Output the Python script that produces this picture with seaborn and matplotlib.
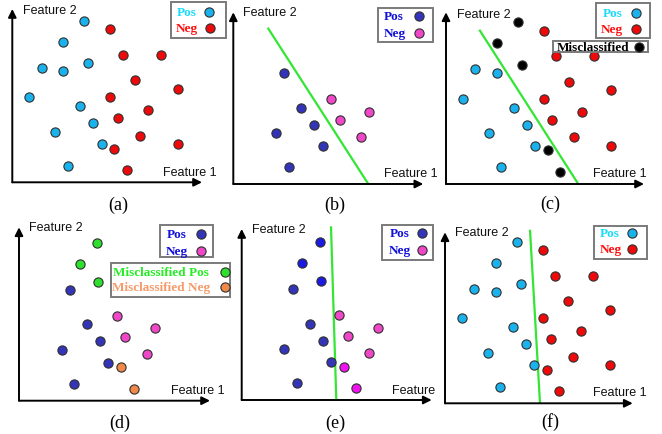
import matplotlib
matplotlib.use('Agg')
import matplotlib.pyplot as plt
import seaborn as sns
import pandas as pd
from matplotlib.patches import Rectangle

sns.set_theme(style='white')
plt.rcParams['font.family'] = ['Liberation Sans', 'DejaVu Sans']

# ---------------- data (Feature 1, Feature 2) ----------------
# dataset used in panels (a), (c), (f)
pos_f1 = [72, 51, 29.4, 51, 76, 17, 67.7, 81, 42.7, 89.4, 55.4]
pos_f2 = [161.6, 140.6, 114.6, 111, 119.3, 85, 76.3, 59, 50.6, 38, 16.6]
pos_miscls_c = [True, True, False, False, True, False, False, False, False, False, False]
neg_f1 = [97.7, 110.4, 148.4, 122.7, 165.4, 97.7, 136, 106, 127.7, 165.4, 102, 114.4]
neg_f2 = [153.3, 127.6, 127.6, 102.3, 93.6, 85, 72.3, 64, 46.6, 38, 33.6, 12]
neg_miscls_c = [False] * 10 + [True, True]

# dataset used in panels (b), (d), (e)
core_pos_f1 = [51, 68, 81, 42.7, 89.4, 55.4]
core_pos_f2 = [111, 76.5, 59.5, 50.7, 38, 16.7]
core_neg_f1 = [97.7, 106.3, 136, 127.7]
core_neg_f2 = [85, 64, 72.5, 46.7]
mis_pos_f1 = [78, 60.7, 79.3]
mis_pos_f2 = [158, 136.7, 119]
mis_neg_f1 = [102.2, 114.7]
mis_neg_f2 = [33.5, 12.2]

# decision boundaries (two end points each)
line_b_f1, line_b_f2 = [34.4, 135], [156.3, 0]
line_c_f1, line_c_f2 = [33.3, 132.3], [154.3, 0]
line_e_f1, line_e_f2 = [89.3, 94.6], [173.7, 0]
line_f_f1, line_f_f2 = [85, 95], [173.6, 0]

panel_labels = ['(a)', '(b)', '(c)', '(d)', '(e)', '(f)']

# ---------------- styling ----------------
CYAN = '#1ab2ec'
RED = '#ee0a0a'
BLUE = '#3434b8'
PINK = '#f046c8'
GREEN = '#2ee02e'
ORANGE = '#f08848'
EDGE = '#303030'
LINE_GREEN = '#33e633'
S = 44
LEG_FS = 9.5

W_PX, H_PX = 662, 435
fig = plt.figure(figsize=(6.62, 4.35), dpi=100)
fig.patch.set_facecolor('white')

panels = [
    dict(cell=(0, 220, 0, 217), origin=(12.3, 183.3), xend=202, ytop=10),
    dict(cell=(220, 440, 0, 217), origin=(233.3, 185), xend=423.3, ytop=13.3),
    dict(cell=(440, 662, 0, 217), origin=(446, 185), xend=644, ytop=13.3),
    dict(cell=(0, 220, 217, 435), origin=(19, 401.7), xend=210, ytop=228.3),
    dict(cell=(220, 439, 217, 435), origin=(241.7, 401), xend=431.7, ytop=230),
    dict(cell=(440, 662, 217, 435), origin=(445, 404.3), xend=632.7, ytop=233.3),
]

axes = []
for p in panels:
    L, R, T, B = p['cell']
    ox, oy = p['origin']
    ax = fig.add_axes([L / W_PX, 1 - B / H_PX, (R - L) / W_PX, (B - T) / H_PX])
    ax.set_xlim(L - ox, R - ox)
    ax.set_ylim(oy - B, oy - T)
    ax.set_axis_off()
    ap = dict(arrowstyle='-|>,head_length=0.6,head_width=0.3', color='black',
              lw=1.4, shrinkA=0, shrinkB=0, mutation_scale=8)
    ax.annotate('', xy=(p['xend'] - ox, 0), xytext=(0, 0), arrowprops=ap, annotation_clip=False)
    ax.annotate('', xy=(0, oy - p['ytop']), xytext=(0, 0), arrowprops=ap, annotation_clip=False)
    axes.append(ax)


def px(i, x, y):
    ox, oy = panels[i]['origin']
    return x - ox, oy - y


def feat_labels(i, f2_xy, f1_xy, clip_f1=False):
    ax = axes[i]
    x, y = px(i, *f2_xy)
    ax.text(x, y, 'Feature 2', ha='left', va='center', fontsize=9, color='#111111')
    x, y = px(i, *f1_xy)
    ax.text(x, y, 'Feature 1', ha='left', va='center', fontsize=9, color='#111111',
            clip_on=clip_f1)


def box(i, x0, y0, x1, y1):
    ax = axes[i]
    bx, by = px(i, x0, y1)
    ax.add_patch(Rectangle((bx, by), x1 - x0, y1 - y0, facecolor='white',
                           edgecolor='#7a7a7a', lw=1.4, clip_on=False, zorder=4))


def entry(i, tx, ty, text, tcolor, mx, mcolor):
    ax = axes[i]
    x, y = px(i, tx, ty)
    ax.text(x, y, text, ha='left', va='center', fontsize=LEG_FS, fontweight='bold',
            family='Liberation Serif', color=tcolor, zorder=5)
    x, y = px(i, mx, ty)
    ax.scatter([x], [y], s=S, color=mcolor, edgecolor=EDGE, linewidth=0.8,
               zorder=5, clip_on=False)


def dots(ax, f1, f2, color):
    sns.scatterplot(x=f1, y=f2, color=color, s=S, edgecolor=EDGE, linewidth=0.8,
                    ax=ax, legend=False, zorder=3, clip_on=False)


def boundary(ax, f1, f2):
    ax.plot(f1, f2, color=LINE_GREEN, lw=1.6, zorder=2, solid_capstyle='butt')


def sel(vals, mask, keep):
    return [v for v, m in zip(vals, mask) if m == keep]


# (a)
dots(axes[0], pos_f1, pos_f2, CYAN)
dots(axes[0], neg_f1, neg_f2, RED)
feat_labels(0, (22.7, 10.7), (162.7, 173.3))
box(0, 170.7, 3.3, 226, 38.5)
entry(0, 176.7, 12.7, 'Pos', '#18dcf8', 209.3, CYAN)
entry(0, 175.7, 29.3, 'Neg', '#ff1010', 210, RED)

# (b)
boundary(axes[1], line_b_f1, line_b_f2)
dots(axes[1], core_pos_f1, core_pos_f2, BLUE)
dots(axes[1], core_neg_f1, core_neg_f2, PINK)
feat_labels(1, (243.3, 13.3), (384.3, 174.3))
box(1, 377.7, 9.3, 433.3, 43.3)
entry(1, 383.3, 16.7, 'Pos', '#1010d8', 418.6, BLUE)
entry(1, 383.3, 33.7, 'Neg', '#1010d8', 418.6, PINK)

# (c)
boundary(axes[2], line_c_f1, line_c_f2)
dots(axes[2], sel(pos_f1, pos_miscls_c, False), sel(pos_f2, pos_miscls_c, False), CYAN)
dots(axes[2], sel(neg_f1, neg_miscls_c, False), sel(neg_f2, neg_miscls_c, False), RED)
dots(axes[2], sel(pos_f1, pos_miscls_c, True) + sel(neg_f1, neg_miscls_c, True),
     sel(pos_f2, pos_miscls_c, True) + sel(neg_f2, neg_miscls_c, True), 'black')
feat_labels(2, (456.7, 15), (593.4, 174))
box(2, 596, 4, 650, 39)
entry(2, 603, 14, 'Pos', '#18dcf8', 635.7, CYAN)
entry(2, 600.7, 30, 'Neg', '#ff1010', 635.7, RED)
box(2, 553.3, 41.7, 648.3, 53.3)
entry(2, 556.7, 48.3, 'Misclassified', 'black', 639.3, 'black')

# (d)
dots(axes[3], core_pos_f1, core_pos_f2, BLUE)
dots(axes[3], core_neg_f1, core_neg_f2, PINK)
dots(axes[3], mis_pos_f1, mis_pos_f2, GREEN)
dots(axes[3], mis_neg_f1, mis_neg_f2, ORANGE)
feat_labels(3, (29.3, 228.3), (170.7, 390.7))
box(3, 160, 225.7, 213.3, 258.3)
entry(3, 166.7, 235, 'Pos', '#1010d8', 201, BLUE)
entry(3, 165.7, 251.7, 'Neg', '#1010d8', 200.5, PINK)
box(3, 111, 264.3, 229.5, 298.3)
entry(3, 113.3, 273.3, 'Misclassified Pos', '#22ee22', 224.5, GREEN)
entry(3, 111.7, 288.3, 'Misclassified Neg', '#f59a6a', 224.5, ORANGE)

# (e)
boundary(axes[4], line_e_f1, line_e_f2)
dots(axes[4], core_pos_f1, core_pos_f2, BLUE)
dots(axes[4], mis_pos_f1, mis_pos_f2, '#1a1ae0')
dots(axes[4], core_neg_f1, core_neg_f2, PINK)
dots(axes[4], mis_neg_f1, mis_neg_f2, '#f010f0')
feat_labels(4, (251.7, 230), (391.7, 390.7), clip_f1=True)
box(4, 382.3, 226, 433.3, 260.7)
entry(4, 389.3, 234.3, 'Pos', '#1010d8', 421.7, BLUE)
entry(4, 388.3, 251, 'Neg', '#1010d8', 421.7, PINK)

# (f)
boundary(axes[5], line_f_f1, line_f_f2)
dots(axes[5], pos_f1, pos_f2, CYAN)
dots(axes[5], neg_f1, neg_f2, RED)
feat_labels(5, (455, 233.3), (592.7, 392.7))
box(5, 594, 226.7, 647.3, 260)
entry(5, 600, 234.3, 'Pos', '#18dcf8', 632.3, CYAN)
entry(5, 599.3, 250, 'Neg', '#ff1010', 632.3, RED)

# panel captions
cap_pos = [(118.3, 205.7), (335, 205.7), (550.7, 204), (120, 423.3), (335, 423.3), (550, 421.7)]
for i, (lab, (cx, cy)) in enumerate(zip(panel_labels, cap_pos)):
    x, y = px(i, cx, cy)
    axes[i].text(x, y, lab, ha='center', va='center', fontsize=13,
                 family='Liberation Serif', color='black')

fig.savefig('out.png', dpi=100, facecolor='white')
